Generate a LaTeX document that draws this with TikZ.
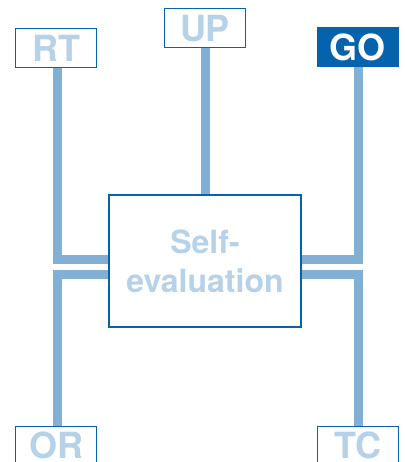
\documentclass[tikz,border=0pt]{standalone}
\usepackage{fontspec}
\setmainfont{TeX Gyre Heros}
\usetikzlibrary{positioning, backgrounds}
\definecolor{signblue}{HTML}{0563AD}
\definecolor{poleblue}{HTML}{82B0D4}
\definecolor{paleblue}{HTML}{B6D2E9}
\tikzset{
  sign/.style={draw=signblue, line width=1.2pt, fill=white, inner sep=0pt, minimum width=81pt, minimum height=39pt, text=paleblue, font=\fontsize{36}{40}\selectfont\bfseries},
  goal/.style={sign, fill=signblue, text=white},
  centre/.style={draw=signblue, line width=1.2pt, fill=white, inner sep=0pt, minimum width=192pt, minimum height=132pt, align=center, text=paleblue, font=\fontsize{32}{39}\selectfont\bfseries},
  pole/.style={draw=poleblue, line width=9pt},
}

\begin{document}
\begin{tikzpicture}[x=1pt, y=1pt]
      \useasboundingbox (0,0) rectangle (404,462);
      \node[centre] (self) at (205,201) {Self-\\evaluation};
      \node[sign, above=146pt of self] (up) {UP};
      \node[sign, above left=126pt and 11pt of self] (rt) {RT};
      \node[goal, above right=127pt and 15pt of self] (go) {GO};
      \node[sign, below left=98pt and 11pt of self] (or) {OR};
      \node[sign, below right=98pt and 15pt of self] (tc) {TC};

      \begin{scope}[on background layer]
      \draw[pole] (up.south) -- (self.north);
      \draw[pole] ([xshift=1pt]rt.south) |- ([yshift=1pt]self.west);
      \draw[pole] ([xshift=1pt]or.north) |- ([yshift=-14pt]self.west);
      \draw[pole] ([xshift=1pt]go.south) |- ([yshift=1pt]self.east);
      \draw[pole] ([xshift=1pt]tc.north) |- ([yshift=-14pt]self.east);
      \end{scope}
    \end{tikzpicture}
\end{document}
